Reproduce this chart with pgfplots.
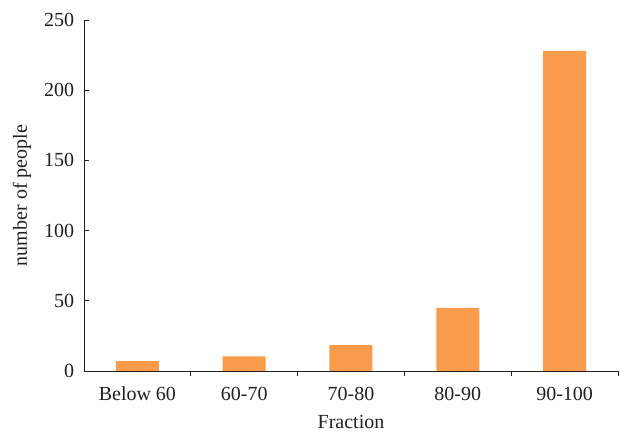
\documentclass[border=0pt]{standalone}
\usepackage{pgfplots}
\pgfplotsset{compat=1.18}
\usepackage{fontspec}
\setmainfont{Liberation Serif}
\definecolor{barorange}{HTML}{F89B4A}
\definecolor{inkgrey}{HTML}{231F20}

\begin{document}
\fontsize{20bp}{23bp}\selectfont
\begin{tikzpicture}
\useasboundingbox (-84bp,-62bp) rectangle (538bp,371bp);
\begin{axis}[
    scale only axis,
    width=534bp, height=351bp,
    xmin=-0.5, xmax=4.5,
    ymin=0, ymax=250,
    axis x line*=bottom,
    axis y line*=left,
    axis line style={line width=0.9bp, inkgrey},
    xtick={0,1,2,3,4},
    xticklabels={Below 60, 60-70, 70-80, 80-90, 90-100},
    major x tick style={draw=none},
    minor xtick={0.5,1.5,2.5,3.5,4.5},
    minor tick length=5bp,
    minor tick style={line width=0.9bp, inkgrey},
    ytick={0,50,100,150,200,250},
    major tick length=5bp,
    tick align=inside,
    ytick style={line width=0.9bp, inkgrey},
    tick label style={font=\fontsize{20bp}{23bp}\selectfont, text=inkgrey},
    /pgf/number format/assume math mode=true,
    xticklabel style={yshift=-4bp},
    yticklabel style={xshift=-3bp},
    xlabel={Fraction},
    ylabel={number of people},
    label style={font=\fontsize{20bp}{23bp}\selectfont, text=inkgrey},
    xlabel style={at={(rel axis cs:0.5,0)}, anchor=center, yshift=-51bp},
    ylabel style={at={(rel axis cs:0,0.5)}, anchor=center, yshift=62bp},
    ybar, bar width=43bp,
]
\addplot[fill=barorange, draw=none] coordinates {
(0,7) (1,10.5) (2,18.5) (3,45) (4,228)
};
\end{axis}
\end{tikzpicture}
\end{document}
